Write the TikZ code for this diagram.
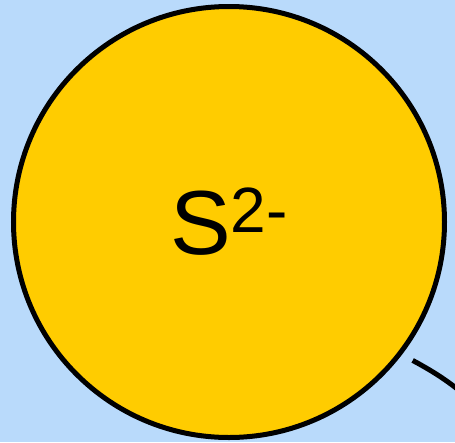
\documentclass[tikz,border=0pt]{standalone}
\usepackage{fontspec}
\setmainfont{Liberation Sans}
\usepackage{tikz}
\usetikzlibrary{calc}
\definecolor{sky}{HTML}{B9DAFB}
\definecolor{sulfur}{HTML}{FFCC00}
\tikzset{
  atom/.style={circle, draw=black, fill=sulfur, line width=5pt, minimum size=431pt, inner sep=0pt},
  bond/.style={draw=black, line width=5pt},
}
\newcommand{\ionlabel}[2]{\fontsize{91}{91}\selectfont #1\raisebox{22pt}{\fontsize{64}{64}\selectfont #2}}

\begin{document}
\begin{tikzpicture}[x=1pt, y=-1pt]
    \fill[sky] (0,0) rectangle (455,442);
    \useasboundingbox (0,0) rectangle (455,442);
    \clip (0,0) rectangle (455,442);
    \node[atom] (s) at (229,222) {\raisebox{2pt}{\ionlabel{S}{2-}}};
    \coordinate (b) at (472,401);
    \draw[bond] ($(s.center)+(37:230)$) to[bend left=6] (b);
  \end{tikzpicture}
\end{document}
